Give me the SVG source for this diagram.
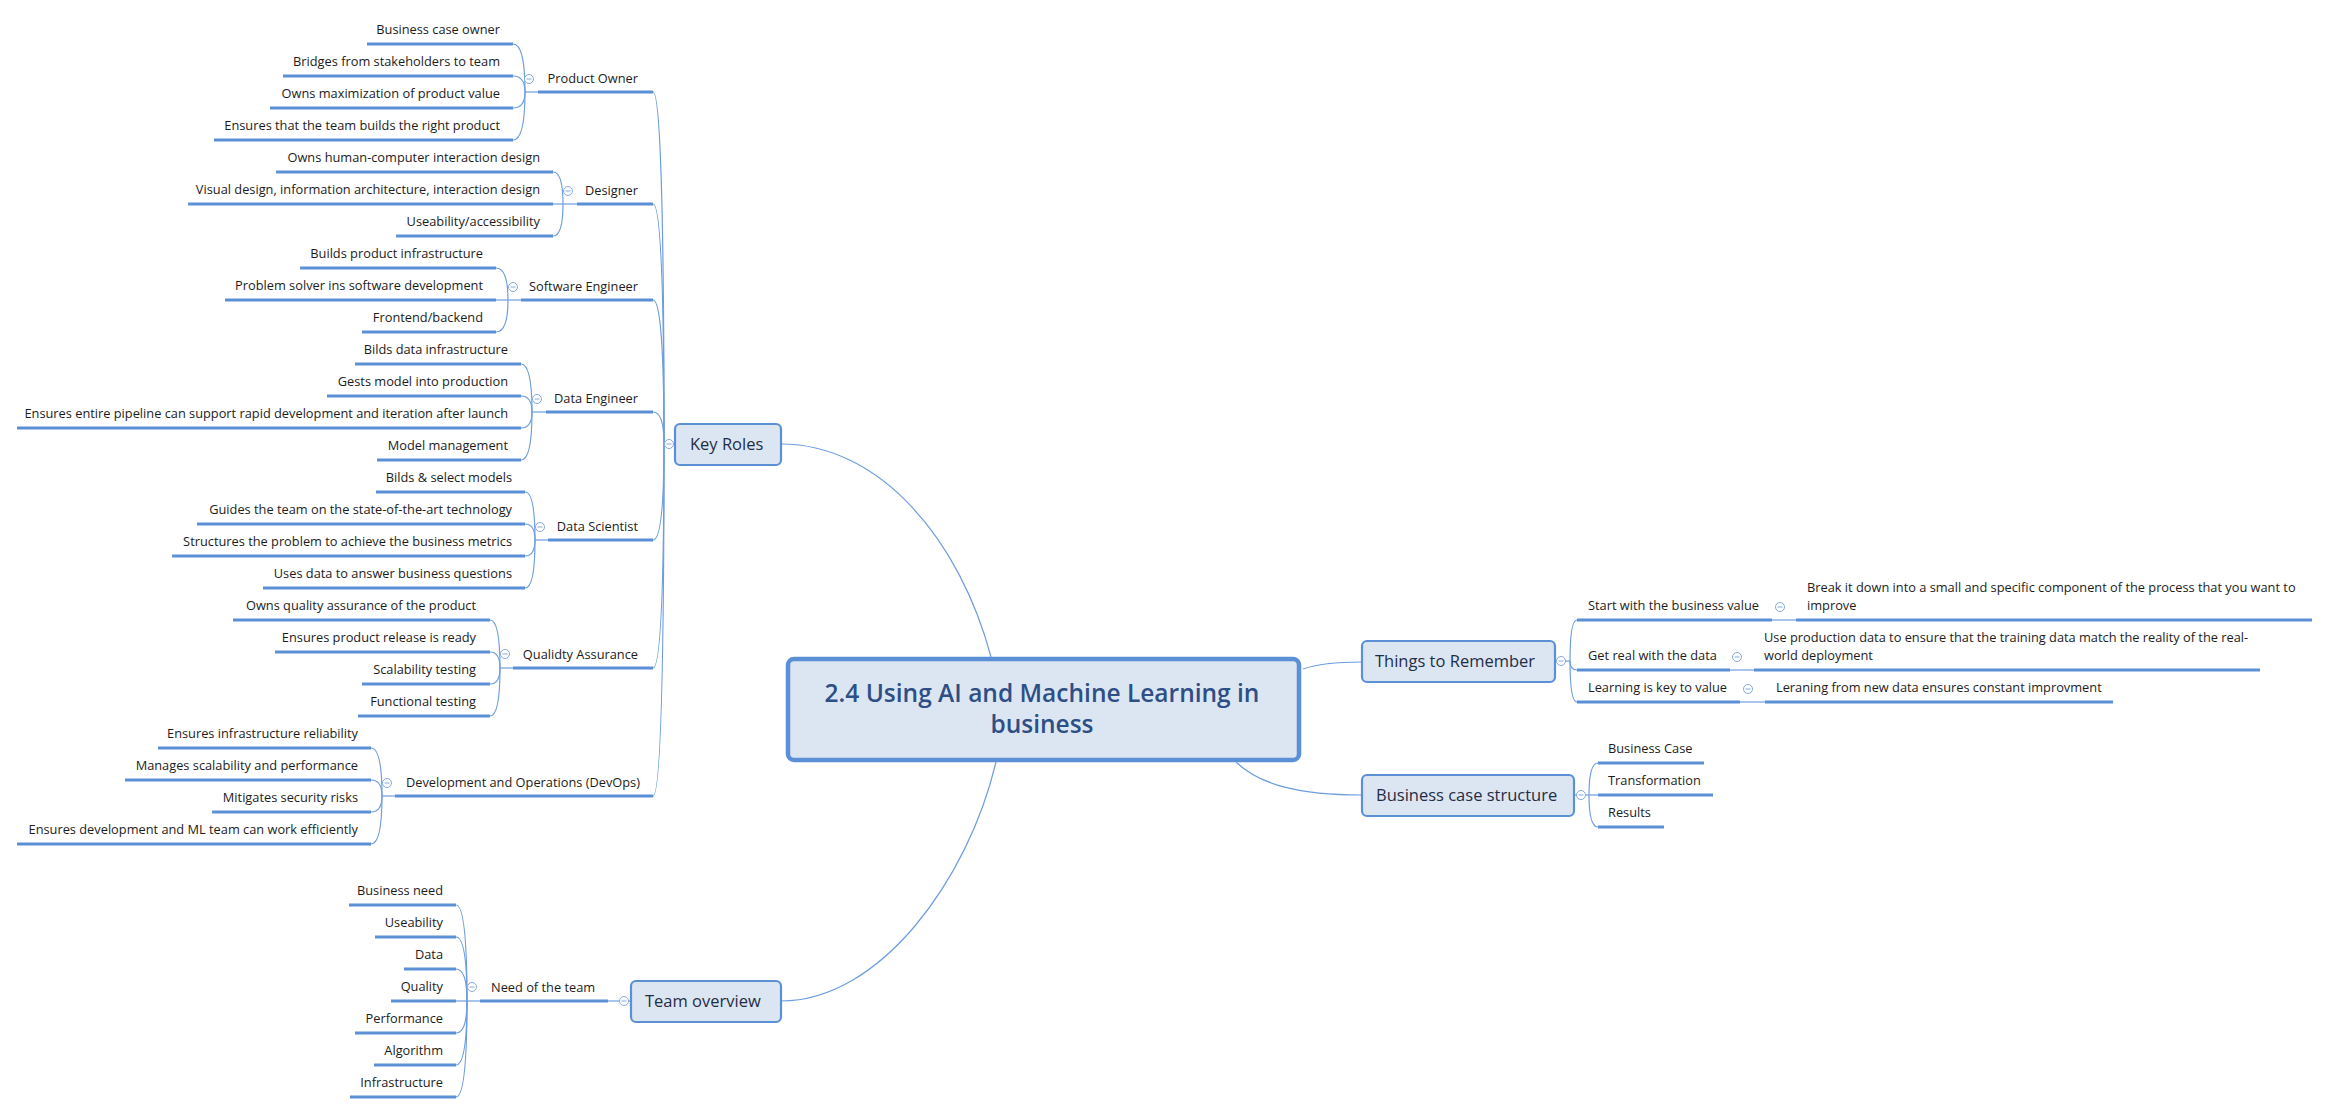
<svg xmlns="http://www.w3.org/2000/svg" width="2330" height="1114" viewBox="0 0 2330 1114">
<style>
.ul{stroke:#5b8fd6;stroke-width:3;fill:none}
.cn{stroke:#6d9de0;stroke-width:1.2;fill:none}
.t{font-family:"Open Sans","DejaVu Sans",sans-serif;font-size:12.8px;fill:#1c1c1c}
.e{text-anchor:end}
.bx{fill:#dce6f2;stroke:#5b8fd6;stroke-width:2.2}
.bt{font-family:"Open Sans","DejaVu Sans",sans-serif;font-size:16.5px;fill:#1f2d45}
.ct{font-family:"Open Sans","DejaVu Sans",sans-serif;font-size:24.5px;font-weight:600;fill:#2e4f86;text-anchor:middle}
.cc{fill:#fff;stroke:#86a8dc;stroke-width:1}
.cm{stroke:#86a8dc;stroke-width:1}
</style>
<defs>
<g id="col"><circle class="cc" r="4.5"/><line class="cm" x1="-2.5" y1="0" x2="2.5" y2="0"/></g>
</defs>
<rect width="2330" height="1114" fill="#fff"/>

<g id="connectors">
<!-- central -->
<path class="cn" d="M781,444 C880,444 960,540 991,657"/>
<path class="cn" d="M996,762 C968,880 880,1001 781,1001"/>
<path class="cn" d="M1303,669 C1320,663 1340,662 1361,662"/>
<path class="cn" d="M1236,762 C1260,785 1300,795 1361,795"/>
<!-- Key Roles spine -->
<line class="cn" x1="664" y1="444" x2="674" y2="444"/>
<path class="cn" d="M664,444 Q664,92 653,92"/>
<path class="cn" d="M664,444 Q664,204 653,204"/>
<path class="cn" d="M664,444 Q664,300 653,300"/>
<path class="cn" d="M664,444 Q664,412 653,412"/>
<path class="cn" d="M664,444 Q664,540 653,540"/>
<path class="cn" d="M664,444 Q664,668 653,668"/>
<path class="cn" d="M664,444 Q664,796 653,796"/>
<!-- Product Owner -->
<line class="cn" x1="525" y1="92" x2="538" y2="92"/>
<path class="cn" d="M525,92 Q525,44 513,44"/>
<path class="cn" d="M525,92 Q525,76 513,76"/>
<path class="cn" d="M525,92 Q525,108 513,108"/>
<path class="cn" d="M525,92 Q525,140 513,140"/>
<!-- Designer -->
<line class="cn" x1="563" y1="204" x2="577" y2="204"/>
<path class="cn" d="M563,204 Q563,172 553,172"/>
<path class="cn" d="M563,204 L553,204"/>
<path class="cn" d="M563,204 Q563,236 553,236"/>
<!-- Software Engineer -->
<line class="cn" x1="508" y1="300" x2="521" y2="300"/>
<path class="cn" d="M508,300 Q508,268 496,268"/>
<path class="cn" d="M508,300 L496,300"/>
<path class="cn" d="M508,300 Q508,332 496,332"/>
<!-- Data Engineer -->
<line class="cn" x1="532" y1="412" x2="546" y2="412"/>
<path class="cn" d="M532,412 Q532,364 521,364"/>
<path class="cn" d="M532,412 Q532,396 521,396"/>
<path class="cn" d="M532,412 Q532,428 521,428"/>
<path class="cn" d="M532,412 Q532,460 521,460"/>
<!-- Data Scientist -->
<line class="cn" x1="535" y1="540" x2="548" y2="540"/>
<path class="cn" d="M535,540 Q535,492 525,492"/>
<path class="cn" d="M535,540 Q535,524 525,524"/>
<path class="cn" d="M535,540 Q535,556 525,556"/>
<path class="cn" d="M535,540 Q535,588 525,588"/>
<!-- QA -->
<line class="cn" x1="500" y1="668" x2="513" y2="668"/>
<path class="cn" d="M500,668 Q500,620 490,620"/>
<path class="cn" d="M500,668 Q500,652 490,652"/>
<path class="cn" d="M500,668 Q500,684 490,684"/>
<path class="cn" d="M500,668 Q500,716 490,716"/>
<!-- DevOps -->
<line class="cn" x1="382" y1="796" x2="395" y2="796"/>
<path class="cn" d="M382,796 Q382,748 371,748"/>
<path class="cn" d="M382,796 Q382,780 371,780"/>
<path class="cn" d="M382,796 Q382,812 371,812"/>
<path class="cn" d="M382,796 Q382,844 371,844"/>
<!-- Team overview -->
<line class="cn" x1="608" y1="1001" x2="630" y2="1001"/>
<line class="cn" x1="467" y1="1001" x2="480" y2="1001"/>
<path class="cn" d="M467,1001 Q467,905 456,905"/>
<path class="cn" d="M467,1001 Q467,937 456,937"/>
<path class="cn" d="M467,1001 Q467,969 456,969"/>
<path class="cn" d="M467,1001 L456,1001"/>
<path class="cn" d="M467,1001 Q467,1033 456,1033"/>
<path class="cn" d="M467,1001 Q467,1065 456,1065"/>
<path class="cn" d="M467,1001 Q467,1097 456,1097"/>
<!-- Things to Remember -->
<line class="cn" x1="1555" y1="661" x2="1570" y2="661"/>
<path class="cn" d="M1570,661 Q1570,620 1577,620"/>
<path class="cn" d="M1570,661 Q1570,670 1577,670"/>
<path class="cn" d="M1570,661 Q1570,702 1577,702"/>
<line class="cn" x1="1772" y1="620" x2="1796" y2="620"/>
<line class="cn" x1="1730" y1="670" x2="1754" y2="670"/>
<line class="cn" x1="1740" y1="702" x2="1765" y2="702"/>
<!-- Business case structure -->
<line class="cn" x1="1574" y1="795" x2="1589" y2="795"/>
<path class="cn" d="M1589,795 Q1589,763 1598,763"/>
<path class="cn" d="M1589,795 L1598,795"/>
<path class="cn" d="M1589,795 Q1589,827 1598,827"/>
</g>

<g id="central">
<rect x="788" y="659" width="511" height="101" rx="6" fill="#dce6f2" stroke="#5b8fd6" stroke-width="4.5"/>
<text class="ct" x="1042" y="702">2.4 Using AI and Machine Learning in</text>
<text class="ct" x="1042" y="733">business</text>
</g>

<g id="key-roles">
<rect class="bx" x="675" y="424" width="106" height="41" rx="5"/>
<text class="bt" x="690" y="450">Key Roles</text>
<use href="#col" x="669" y="444"/>
</g>

<g id="product-owner">
<line class="ul" x1="538" y1="92" x2="653" y2="92"/>
<text class="t e" x="638" y="83">Product Owner</text>
<use href="#col" x="529" y="79"/>
</g>
<g id="po-1"><line class="ul" x1="367" y1="44" x2="513" y2="44"/><text class="t e" x="500" y="34">Business case owner</text></g>
<g id="po-2"><line class="ul" x1="283" y1="76" x2="513" y2="76"/><text class="t e" x="500" y="66">Bridges from stakeholders to team</text></g>
<g id="po-3"><line class="ul" x1="270" y1="108" x2="513" y2="108"/><text class="t e" x="500" y="98">Owns maximization of product value</text></g>
<g id="po-4"><line class="ul" x1="214" y1="140" x2="513" y2="140"/><text class="t e" x="500" y="130">Ensures that the team builds the right product</text></g>

<g id="designer">
<line class="ul" x1="577" y1="204" x2="653" y2="204"/>
<text class="t e" x="638" y="195">Designer</text>
<use href="#col" x="568" y="191"/>
</g>
<g id="de-1"><line class="ul" x1="276" y1="172" x2="553" y2="172"/><text class="t e" x="540" y="162">Owns human-computer interaction design</text></g>
<g id="de-2"><line class="ul" x1="188" y1="204" x2="553" y2="204"/><text class="t e" x="540" y="194">Visual design, information architecture, interaction design</text></g>
<g id="de-3"><line class="ul" x1="396" y1="236" x2="553" y2="236"/><text class="t e" x="540" y="226">Useability/accessibility</text></g>

<g id="software-engineer">
<line class="ul" x1="521" y1="300" x2="653" y2="300"/>
<text class="t e" x="638" y="291">Software Engineer</text>
<use href="#col" x="513" y="287"/>
</g>
<g id="se-1"><line class="ul" x1="300" y1="268" x2="496" y2="268"/><text class="t e" x="483" y="258">Builds product infrastructure</text></g>
<g id="se-2"><line class="ul" x1="225" y1="300" x2="496" y2="300"/><text class="t e" x="483" y="290">Problem solver ins software development</text></g>
<g id="se-3"><line class="ul" x1="362" y1="332" x2="496" y2="332"/><text class="t e" x="483" y="322">Frontend/backend</text></g>

<g id="data-engineer">
<line class="ul" x1="546" y1="412" x2="653" y2="412"/>
<text class="t e" x="638" y="403">Data Engineer</text>
<use href="#col" x="537" y="399"/>
</g>
<g id="den-1"><line class="ul" x1="355" y1="364" x2="521" y2="364"/><text class="t e" x="508" y="354">Bilds data infrastructure</text></g>
<g id="den-2"><line class="ul" x1="327" y1="396" x2="521" y2="396"/><text class="t e" x="508" y="386">Gests model into production</text></g>
<g id="den-3"><line class="ul" x1="17" y1="428" x2="521" y2="428"/><text class="t e" x="508" y="418">Ensures entire pipeline can support rapid development and iteration after launch</text></g>
<g id="den-4"><line class="ul" x1="377" y1="460" x2="521" y2="460"/><text class="t e" x="508" y="450">Model management</text></g>

<g id="data-scientist">
<line class="ul" x1="548" y1="540" x2="653" y2="540"/>
<text class="t e" x="638" y="531">Data Scientist</text>
<use href="#col" x="540" y="527"/>
</g>
<g id="ds-1"><line class="ul" x1="376" y1="492" x2="525" y2="492"/><text class="t e" x="512" y="482">Bilds &amp; select models</text></g>
<g id="ds-2"><line class="ul" x1="197" y1="524" x2="525" y2="524"/><text class="t e" x="512" y="514">Guides the team on the state-of-the-art technology</text></g>
<g id="ds-3"><line class="ul" x1="172" y1="556" x2="525" y2="556"/><text class="t e" x="512" y="546">Structures the problem to achieve the business metrics</text></g>
<g id="ds-4"><line class="ul" x1="263" y1="588" x2="525" y2="588"/><text class="t e" x="512" y="578">Uses data to answer business questions</text></g>

<g id="quality-assurance">
<line class="ul" x1="513" y1="668" x2="653" y2="668"/>
<text class="t e" x="638" y="659">Qualidty Assurance</text>
<use href="#col" x="505" y="654"/>
</g>
<g id="qa-1"><line class="ul" x1="233" y1="620" x2="490" y2="620"/><text class="t e" x="476" y="610">Owns quality assurance of the product</text></g>
<g id="qa-2"><line class="ul" x1="275" y1="652" x2="490" y2="652"/><text class="t e" x="476" y="642">Ensures product release is ready</text></g>
<g id="qa-3"><line class="ul" x1="362" y1="684" x2="490" y2="684"/><text class="t e" x="476" y="674">Scalability testing</text></g>
<g id="qa-4"><line class="ul" x1="358" y1="716" x2="490" y2="716"/><text class="t e" x="476" y="706">Functional testing</text></g>

<g id="devops">
<line class="ul" x1="395" y1="796" x2="653" y2="796"/>
<text class="t e" x="640" y="787">Development and Operations (DevOps)</text>
<use href="#col" x="387" y="783"/>
</g>
<g id="do-1"><line class="ul" x1="158" y1="748" x2="371" y2="748"/><text class="t e" x="358" y="738">Ensures infrastructure reliability</text></g>
<g id="do-2"><line class="ul" x1="125" y1="780" x2="371" y2="780"/><text class="t e" x="358" y="770">Manages scalability and performance</text></g>
<g id="do-3"><line class="ul" x1="212" y1="812" x2="371" y2="812"/><text class="t e" x="358" y="802">Mitigates security risks</text></g>
<g id="do-4"><line class="ul" x1="17" y1="844" x2="371" y2="844"/><text class="t e" x="358" y="834">Ensures development and ML team can work efficiently</text></g>

<g id="team-overview">
<rect class="bx" x="631" y="981" width="150" height="41" rx="5"/>
<text class="bt" x="645" y="1007">Team overview</text>
<use href="#col" x="624" y="1001"/>
</g>
<g id="need-of-team">
<line class="ul" x1="480" y1="1001" x2="608" y2="1001"/>
<text class="t" x="491" y="992">Need of the team</text>
<use href="#col" x="472" y="987"/>
</g>
<g id="nt-1"><line class="ul" x1="349" y1="905" x2="456" y2="905"/><text class="t e" x="443" y="895">Business need</text></g>
<g id="nt-2"><line class="ul" x1="375" y1="937" x2="456" y2="937"/><text class="t e" x="443" y="927">Useability</text></g>
<g id="nt-3"><line class="ul" x1="404" y1="969" x2="456" y2="969"/><text class="t e" x="443" y="959">Data</text></g>
<g id="nt-4"><line class="ul" x1="391" y1="1001" x2="456" y2="1001"/><text class="t e" x="443" y="991">Quality</text></g>
<g id="nt-5"><line class="ul" x1="355" y1="1033" x2="456" y2="1033"/><text class="t e" x="443" y="1023">Performance</text></g>
<g id="nt-6"><line class="ul" x1="374" y1="1065" x2="456" y2="1065"/><text class="t e" x="443" y="1055">Algorithm</text></g>
<g id="nt-7"><line class="ul" x1="350" y1="1097" x2="456" y2="1097"/><text class="t e" x="443" y="1087">Infrastructure</text></g>

<g id="things-to-remember">
<rect class="bx" x="1362" y="641" width="193" height="41" rx="5"/>
<text class="bt" x="1375" y="667">Things to Remember</text>
<use href="#col" x="1561" y="661"/>
</g>
<g id="tr-1">
<line class="ul" x1="1577" y1="620" x2="1772" y2="620"/>
<text class="t" x="1588" y="610">Start with the business value</text>
<use href="#col" x="1780" y="607"/>
</g>
<g id="tr-1-1">
<line class="ul" x1="1796" y1="620" x2="2312" y2="620"/>
<text class="t" x="1807" y="592">Break it down into a small and specific component of the process that you want to</text>
<text class="t" x="1807" y="610">improve</text>
</g>
<g id="tr-2">
<line class="ul" x1="1577" y1="670" x2="1730" y2="670"/>
<text class="t" x="1588" y="660">Get real with the data</text>
<use href="#col" x="1737" y="657"/>
</g>
<g id="tr-2-1">
<line class="ul" x1="1754" y1="670" x2="2260" y2="670"/>
<text class="t" x="1764" y="642">Use production data to ensure that the training data match the reality of the real-</text>
<text class="t" x="1764" y="660">world deployment</text>
</g>
<g id="tr-3">
<line class="ul" x1="1577" y1="702" x2="1740" y2="702"/>
<text class="t" x="1588" y="692">Learning is key to value</text>
<use href="#col" x="1748" y="689"/>
</g>
<g id="tr-3-1">
<line class="ul" x1="1765" y1="702" x2="2113" y2="702"/>
<text class="t" x="1776" y="692">Leraning from new data ensures constant improvment</text>
</g>

<g id="business-case-structure">
<rect class="bx" x="1362" y="775" width="212" height="41" rx="5"/>
<text class="bt" x="1376" y="801">Business case structure</text>
<use href="#col" x="1581" y="795"/>
</g>
<g id="bc-1"><line class="ul" x1="1598" y1="763" x2="1704" y2="763"/><text class="t" x="1608" y="753">Business Case</text></g>
<g id="bc-2"><line class="ul" x1="1598" y1="795" x2="1713" y2="795"/><text class="t" x="1608" y="785">Transformation</text></g>
<g id="bc-3"><line class="ul" x1="1598" y1="827" x2="1664" y2="827"/><text class="t" x="1608" y="817">Results</text></g>
</svg>
